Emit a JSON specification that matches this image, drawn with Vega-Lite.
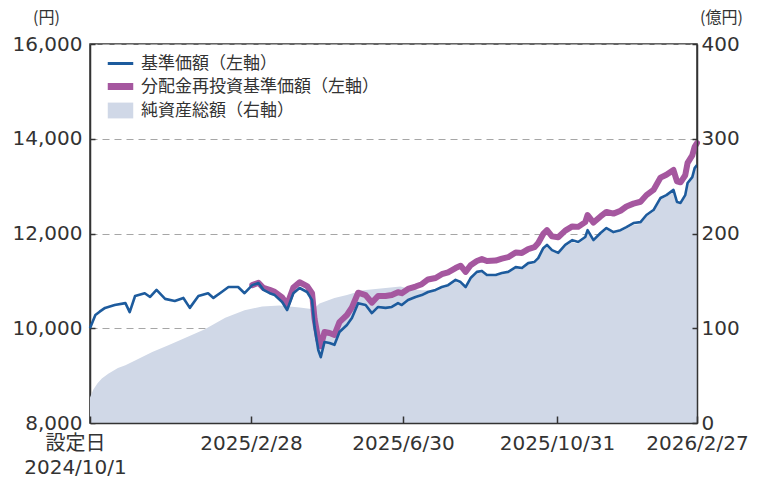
{
  "$schema": "https://vega.github.io/schema/vega-lite/v6.json",
  "autosize": {"type": "none"},
  "width": 607,
  "height": 379,
  "padding": {"left": 90, "top": 44, "right": 62, "bottom": 54},
  "background": "white",
  "config": {
    "view": {"stroke": "#333333", "strokeWidth": 1.5},
    "axis": {"labelFont": "DejaVu Sans", "labelColor": "#333333", "titleColor": "#333333", "titleFont": "Noto Sans CJK JP", "domainColor": "#333333", "domainWidth": 1.5, "tickColor": "#333333", "tickWidth": 1.5},
    "legend": {
      "title": null,
      "orient": "none",
      "legendX": 22,
      "legendY": 11,
      "padding": 0,
      "rowPadding": 0,
      "symbolSize": 650,
      "labelOffset": 12,
      "labelFont": "Noto Sans CJK JP",
      "labelFontSize": 17,
      "labelColor": "#333333",
      "labelLimit": 400
    }
  },
  "encoding": {
    "x": {
      "field": "date",
      "type": "quantitative",
      "scale": {
        "type": "linear",
        "nice": false,
        "zero": false,
        "domain": [1727740800000, 1740700800000, 1751241600000, 1761868800000, 1772150400000],
        "range": [0, 161, 313, 467, 607]
      },
      "axis": {
        "title": null,
        "values": [1727740800000, 1740700800000, 1751241600000, 1761868800000, 1772150400000],
        "labelExpr": "utcyear(datum.value) === 2024 ? ['設定日', utcFormat(datum.value, '%Y/%-m/%-d')] : utcFormat(datum.value, '%Y/%-m/%-d')",
        "labelFont": "DejaVu Sans, Noto Sans CJK JP",
        "labelFontSize": 20,
        "labelLineHeight": 24,
        "labelFlush": false,
        "labelOverlap": false,
        "labelBaseline": "top",
        "labelOffset": {"condition": {"test": "utcyear(datum.value) === 2024", "value": -15}, "value": 0},
        "tickSize": -7,
        "labelPadding": 17,
        "grid": false,
        "domain": true,
        "zindex": 1
      }
    },
    "color": {
      "field": "series",
      "type": "nominal",
      "scale": {
        "domain": ["基準価額（左軸）", "分配金再投資基準価額（左軸）", "純資産総額（右軸）"],
        "range": ["#1d5b9d", "#a5579f", "#d0d8e7"]
      },
      "legend": {
        "symbolType": {"expr": "datum.value === '純資産総額（右軸）' ? 'M-1,-0.62H1V0.62H-1Z' : 'stroke'"},
        "symbolFillColor": {"expr": "datum.value === '純資産総額（右軸）' ? '#d0d8e7' : 'transparent'"},
        "symbolStrokeColor": {"expr": "datum.value === '基準価額（左軸）' ? '#1d5b9d' : (datum.value === '分配金再投資基準価額（左軸）' ? '#a5579f' : 'transparent')"},
        "symbolStrokeWidth": {"expr": "datum.value === '基準価額（左軸）' ? 3 : (datum.value === '分配金再投資基準価額（左軸）' ? 7 : 0)"},
        "symbolOpacity": 1
      }
    }
  },
  "layer": [
    {
      "data": {
        "format": {"parse": {"date": "date"}},
        "values": [
          {"date": "2024-10-01", "value": 27}, {"date": "2024-10-04", "value": 35}, {"date": "2024-10-08", "value": 42},
          {"date": "2024-10-12", "value": 47}, {"date": "2024-10-18", "value": 52}, {"date": "2024-10-27", "value": 58},
          {"date": "2024-11-03", "value": 61}, {"date": "2024-11-12", "value": 66}, {"date": "2024-11-28", "value": 75},
          {"date": "2024-12-13", "value": 82}, {"date": "2024-12-29", "value": 90}, {"date": "2025-01-16", "value": 99},
          {"date": "2025-02-04", "value": 111}, {"date": "2025-02-22", "value": 119}, {"date": "2025-03-09", "value": 123},
          {"date": "2025-03-23", "value": 124}, {"date": "2025-04-08", "value": 122}, {"date": "2025-04-19", "value": 120},
          {"date": "2025-04-24", "value": 126}, {"date": "2025-05-06", "value": 132}, {"date": "2025-05-16", "value": 135},
          {"date": "2025-05-29", "value": 140}, {"date": "2025-06-12", "value": 142}, {"date": "2025-06-28", "value": 144},
          {"date": "2025-07-04", "value": 142}, {"date": "2025-07-10", "value": 141}, {"date": "2025-07-15", "value": 140},
          {"date": "2025-07-20", "value": 140}, {"date": "2025-07-26", "value": 141}, {"date": "2025-07-31", "value": 142},
          {"date": "2025-08-05", "value": 144}, {"date": "2025-08-11", "value": 149}, {"date": "2025-08-15", "value": 147},
          {"date": "2025-08-19", "value": 142}, {"date": "2025-08-23", "value": 151}, {"date": "2025-08-28", "value": 158},
          {"date": "2025-09-01", "value": 159}, {"date": "2025-09-05", "value": 155}, {"date": "2025-09-12", "value": 155},
          {"date": "2025-09-17", "value": 157}, {"date": "2025-09-22", "value": 158}, {"date": "2025-09-28", "value": 163},
          {"date": "2025-10-03", "value": 162}, {"date": "2025-10-08", "value": 167}, {"date": "2025-10-13", "value": 168},
          {"date": "2025-10-16", "value": 172}, {"date": "2025-10-20", "value": 183}, {"date": "2025-10-23", "value": 186},
          {"date": "2025-10-27", "value": 181}, {"date": "2025-11-01", "value": 178}, {"date": "2025-11-07", "value": 186},
          {"date": "2025-11-13", "value": 191}, {"date": "2025-11-18", "value": 189}, {"date": "2025-11-24", "value": 195},
          {"date": "2025-11-26", "value": 202}, {"date": "2025-12-01", "value": 191}, {"date": "2025-12-07", "value": 199},
          {"date": "2025-12-12", "value": 204}, {"date": "2025-12-18", "value": 200}, {"date": "2025-12-24", "value": 202},
          {"date": "2025-12-29", "value": 205}, {"date": "2026-01-04", "value": 209}, {"date": "2026-01-10", "value": 210},
          {"date": "2026-01-15", "value": 218}, {"date": "2026-01-21", "value": 223}, {"date": "2026-01-27", "value": 236},
          {"date": "2026-02-01", "value": 239}, {"date": "2026-02-07", "value": 244}, {"date": "2026-02-10", "value": 232},
          {"date": "2026-02-13", "value": 231}, {"date": "2026-02-17", "value": 239}, {"date": "2026-02-19", "value": 252},
          {"date": "2026-02-23", "value": 258}, {"date": "2026-02-25", "value": 267}, {"date": "2026-02-27", "value": 271}
        ]
      },
      "mark": {"type": "area", "interpolate": "linear", "opacity": 1},
      "encoding": {
        "color": {"datum": "純資産総額（右軸）"},
        "y": {
          "field": "value",
          "type": "quantitative",
          "scale": {"domain": [0, 400], "nice": false, "zero": true},
          "axis": {
            "orient": "right",
            "values": [0, 100, 200, 300, 400],
            "grid": false,
            "domain": true,
            "zindex": 1,
            "tickSize": -5,
            "labelPadding": 9,
            "labelFontSize": 20,
            "title": "(億円)",
            "titleAngle": 0,
            "titleX": 24,
            "titleY": -22,
            "titleAlign": "center",
            "titleBaseline": "alphabetic",
            "titleFontSize": 16,
            "titleFontWeight": "normal"
          }
        }
      }
    },
    {
      "encoding": {
        "y": {
          "field": "value",
          "type": "quantitative",
          "scale": {"domain": [8000, 16000], "nice": false, "zero": false},
          "axis": {
            "orient": "left",
            "values": [8000, 10000, 12000, 14000, 16000],
            "labelExpr": "format(datum.value, ',.0f')",
            "grid": true,
            "gridColor": "#a6a6a6",
            "gridDash": [7, 5],
            "gridWidth": 1.2,
            "domain": true,
            "tickSize": -5,
            "labelPadding": 13,
            "labelFontSize": 20,
            "title": "(円)",
            "titleAngle": 0,
            "titleX": -44,
            "titleY": -22,
            "titleAlign": "center",
            "titleBaseline": "alphabetic",
            "titleFontSize": 16,
            "titleFontWeight": "normal"
          }
        }
      },
      "layer": [
        {
          "data": {
            "format": {"parse": {"date": "date"}},
            "values": [
              {"date": "2025-03-01", "value": 10910}, {"date": "2025-03-06", "value": 10960}, {"date": "2025-03-10", "value": 10850},
              {"date": "2025-03-15", "value": 10810}, {"date": "2025-03-19", "value": 10770}, {"date": "2025-03-25", "value": 10650},
              {"date": "2025-03-29", "value": 10500}, {"date": "2025-04-03", "value": 10860}, {"date": "2025-04-08", "value": 10970},
              {"date": "2025-04-14", "value": 10890}, {"date": "2025-04-18", "value": 10740}, {"date": "2025-04-20", "value": 10200},
              {"date": "2025-04-23", "value": 9760}, {"date": "2025-04-25", "value": 9620}, {"date": "2025-04-28", "value": 9920},
              {"date": "2025-05-02", "value": 9900}, {"date": "2025-05-06", "value": 9860}, {"date": "2025-05-10", "value": 10130},
              {"date": "2025-05-16", "value": 10280}, {"date": "2025-05-20", "value": 10440}, {"date": "2025-05-25", "value": 10750},
              {"date": "2025-05-31", "value": 10700}, {"date": "2025-06-05", "value": 10540}, {"date": "2025-06-10", "value": 10680},
              {"date": "2025-06-16", "value": 10680}, {"date": "2025-06-21", "value": 10700}, {"date": "2025-06-26", "value": 10760},
              {"date": "2025-06-29", "value": 10740}, {"date": "2025-07-04", "value": 10830}, {"date": "2025-07-10", "value": 10880},
              {"date": "2025-07-15", "value": 10930}, {"date": "2025-07-20", "value": 11030}, {"date": "2025-07-26", "value": 11060},
              {"date": "2025-07-31", "value": 11140}, {"date": "2025-08-05", "value": 11180}, {"date": "2025-08-11", "value": 11270},
              {"date": "2025-08-15", "value": 11320}, {"date": "2025-08-19", "value": 11190}, {"date": "2025-08-23", "value": 11330},
              {"date": "2025-08-28", "value": 11420}, {"date": "2025-09-01", "value": 11460}, {"date": "2025-09-05", "value": 11420},
              {"date": "2025-09-12", "value": 11430}, {"date": "2025-09-17", "value": 11470}, {"date": "2025-09-22", "value": 11500},
              {"date": "2025-09-28", "value": 11600}, {"date": "2025-10-03", "value": 11590}, {"date": "2025-10-08", "value": 11670},
              {"date": "2025-10-13", "value": 11710}, {"date": "2025-10-16", "value": 11800}, {"date": "2025-10-20", "value": 11990},
              {"date": "2025-10-23", "value": 12070}, {"date": "2025-10-27", "value": 11940}, {"date": "2025-11-01", "value": 11920},
              {"date": "2025-11-07", "value": 12060}, {"date": "2025-11-13", "value": 12150}, {"date": "2025-11-18", "value": 12140},
              {"date": "2025-11-24", "value": 12240}, {"date": "2025-11-26", "value": 12390}, {"date": "2025-12-01", "value": 12230},
              {"date": "2025-12-07", "value": 12360}, {"date": "2025-12-12", "value": 12455}, {"date": "2025-12-18", "value": 12420},
              {"date": "2025-12-24", "value": 12480}, {"date": "2025-12-29", "value": 12570}, {"date": "2026-01-04", "value": 12630},
              {"date": "2026-01-10", "value": 12670}, {"date": "2026-01-15", "value": 12810}, {"date": "2026-01-21", "value": 12920},
              {"date": "2026-01-27", "value": 13180}, {"date": "2026-02-01", "value": 13240}, {"date": "2026-02-07", "value": 13340},
              {"date": "2026-02-10", "value": 13100}, {"date": "2026-02-13", "value": 13080}, {"date": "2026-02-17", "value": 13230},
              {"date": "2026-02-19", "value": 13490}, {"date": "2026-02-23", "value": 13650}, {"date": "2026-02-25", "value": 13830},
              {"date": "2026-02-27", "value": 13910}
            ]
          },
          "mark": {"type": "line", "strokeWidth": 6, "strokeJoin": "round", "strokeCap": "round"},
          "encoding": {"color": {"datum": "分配金再投資基準価額（左軸）"}}
        },
        {
          "data": {
            "format": {"parse": {"date": "date"}},
            "values": [
              {"date": "2024-10-01", "value": 10000}, {"date": "2024-10-06", "value": 10280}, {"date": "2024-10-10", "value": 10350},
              {"date": "2024-10-15", "value": 10430}, {"date": "2024-10-24", "value": 10490}, {"date": "2024-11-03", "value": 10530},
              {"date": "2024-11-07", "value": 10340}, {"date": "2024-11-12", "value": 10680}, {"date": "2024-11-21", "value": 10740},
              {"date": "2024-11-26", "value": 10660}, {"date": "2024-12-02", "value": 10810}, {"date": "2024-12-10", "value": 10620},
              {"date": "2024-12-19", "value": 10575}, {"date": "2024-12-27", "value": 10640}, {"date": "2025-01-02", "value": 10430},
              {"date": "2025-01-10", "value": 10680}, {"date": "2025-01-19", "value": 10740}, {"date": "2025-01-24", "value": 10640},
              {"date": "2025-02-01", "value": 10770}, {"date": "2025-02-07", "value": 10870}, {"date": "2025-02-16", "value": 10870},
              {"date": "2025-02-22", "value": 10740}, {"date": "2025-03-01", "value": 10910}, {"date": "2025-03-06", "value": 10955},
              {"date": "2025-03-10", "value": 10810}, {"date": "2025-03-15", "value": 10740}, {"date": "2025-03-19", "value": 10700},
              {"date": "2025-03-25", "value": 10555}, {"date": "2025-03-29", "value": 10385}, {"date": "2025-04-03", "value": 10740},
              {"date": "2025-04-08", "value": 10850}, {"date": "2025-04-14", "value": 10765}, {"date": "2025-04-18", "value": 10595},
              {"date": "2025-04-20", "value": 10030}, {"date": "2025-04-23", "value": 9540}, {"date": "2025-04-25", "value": 9390},
              {"date": "2025-04-28", "value": 9710}, {"date": "2025-05-02", "value": 9690}, {"date": "2025-05-06", "value": 9650},
              {"date": "2025-05-10", "value": 9920}, {"date": "2025-05-16", "value": 10070}, {"date": "2025-05-20", "value": 10215},
              {"date": "2025-05-25", "value": 10530}, {"date": "2025-05-31", "value": 10490}, {"date": "2025-06-05", "value": 10320},
              {"date": "2025-06-10", "value": 10450}, {"date": "2025-06-16", "value": 10430}, {"date": "2025-06-21", "value": 10450},
              {"date": "2025-06-26", "value": 10530}, {"date": "2025-06-29", "value": 10490}, {"date": "2025-07-04", "value": 10595},
              {"date": "2025-07-10", "value": 10660}, {"date": "2025-07-15", "value": 10700}, {"date": "2025-07-20", "value": 10765},
              {"date": "2025-07-26", "value": 10810}, {"date": "2025-07-31", "value": 10870}, {"date": "2025-08-05", "value": 10910},
              {"date": "2025-08-11", "value": 11020}, {"date": "2025-08-15", "value": 10975}, {"date": "2025-08-19", "value": 10870},
              {"date": "2025-08-23", "value": 11060}, {"date": "2025-08-28", "value": 11190}, {"date": "2025-09-01", "value": 11210},
              {"date": "2025-09-05", "value": 11125}, {"date": "2025-09-12", "value": 11125}, {"date": "2025-09-17", "value": 11165},
              {"date": "2025-09-22", "value": 11190}, {"date": "2025-09-28", "value": 11290}, {"date": "2025-10-03", "value": 11270},
              {"date": "2025-10-08", "value": 11375}, {"date": "2025-10-13", "value": 11400}, {"date": "2025-10-16", "value": 11480},
              {"date": "2025-10-20", "value": 11690}, {"date": "2025-10-23", "value": 11760}, {"date": "2025-10-27", "value": 11650},
              {"date": "2025-11-01", "value": 11590}, {"date": "2025-11-07", "value": 11760}, {"date": "2025-11-13", "value": 11860},
              {"date": "2025-11-18", "value": 11820}, {"date": "2025-11-24", "value": 11925}, {"date": "2025-11-26", "value": 12070},
              {"date": "2025-12-01", "value": 11860}, {"date": "2025-12-07", "value": 12010}, {"date": "2025-12-12", "value": 12115},
              {"date": "2025-12-18", "value": 12030}, {"date": "2025-12-24", "value": 12070}, {"date": "2025-12-29", "value": 12135},
              {"date": "2026-01-04", "value": 12220}, {"date": "2026-01-10", "value": 12240}, {"date": "2026-01-15", "value": 12390},
              {"date": "2026-01-21", "value": 12495}, {"date": "2026-01-27", "value": 12750}, {"date": "2026-02-01", "value": 12810},
              {"date": "2026-02-07", "value": 12920}, {"date": "2026-02-10", "value": 12665}, {"date": "2026-02-13", "value": 12645},
              {"date": "2026-02-17", "value": 12810}, {"date": "2026-02-19", "value": 13065}, {"date": "2026-02-23", "value": 13190},
              {"date": "2026-02-25", "value": 13380}, {"date": "2026-02-27", "value": 13445}
            ]
          },
          "mark": {"type": "line", "strokeWidth": 2.6, "strokeJoin": "round"},
          "encoding": {"color": {"datum": "基準価額（左軸）"}}
        }
      ]
    }
  ],
  "resolve": {"scale": {"y": "independent"}}
}
